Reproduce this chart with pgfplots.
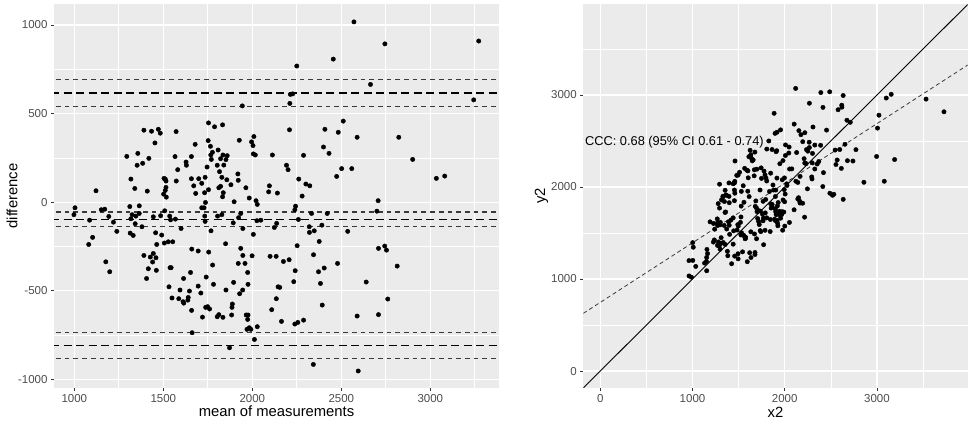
\documentclass[border=0pt]{standalone}
\usepackage{fontspec}
\setmainfont{Liberation Sans}
\usepackage{pgfplots}
\usepackage{pgfplotstable}
\pgfplotsset{compat=1.18}
\definecolor{panel}{HTML}{EBEBEB}
\definecolor{tickc}{HTML}{4D4D4D}
\definecolor{tickm}{HTML}{333333}
\definecolor{dashc}{HTML}{3A3A3A}

\pgfplotstableread{
m d
1391 406
1434 400
1472 411
1483 389
1572 398
1453 334
1679 326
1357 275
1295 258
1419 247
1566 257
1658 257
1353 208
1384 219
1628 226
1630 208
1581 183
1318 130
1504 134
1511 130
1515 119
1658 132
1699 132
1573 119
1340 77
1122 64
1410 62
1671 92
1716 106
1515 83
1511 66
1502 45
1517 28
1682 49
1004 -32
1152 -43
1171 -40
1312 -25
1365 -21
1716 -32
998 -71
1086 -102
1194 -81
1220 -113
1239 -165
1081 -239
1103 -199
1177 -337
1199 -393
1325 -71
1346 -79
1365 -64
1318 -94
1342 -122
1314 -175
1331 -188
1380 -139
1444 -83
1485 -77
1508 -49
1536 -79
1541 -100
1568 -96
1600 -149
1457 -173
1491 -186
1463 -239
1506 -231
1528 -224
1553 -224
1660 -265
1696 -276
1391 -301
1427 -310
1444 -290
1459 -314
1440 -338
1416 -376
1461 -385
1406 -431
1538 -370
1544 -370
1614 -431
1653 -397
1532 -478
1594 -496
1647 -502
1696 -474
1711 -513
1549 -541
1587 -545
1611 -562
1615 -570
1640 -538
1638 -553
1659 -611
1720 -649
1662 -737
2250 768
2214 608
2227 611
2211 557
1944 543
1754 447
1788 425
1833 436
2209 408
2408 411
2511 457
2483 394
1752 347
1927 349
2009 370
1996 340
2004 319
1765 315
1776 281
1808 294
1767 266
1835 266
1859 262
1822 245
1852 240
1770 241
2006 272
2017 266
2113 266
2288 264
2400 311
2431 275
1803 208
1840 209
1746 198
2192 208
2201 183
2502 189
2474 145
1816 172
1919 159
1735 140
1829 140
1857 126
1921 123
2261 130
1880 98
2301 102
2323 92
2096 92
1812 81
1822 89
1754 70
1964 81
1732 53
1837 53
2092 58
2141 51
2280 34
1833 30
1983 23
1898 2
2021 8
2028 -13
1737 -2
2243 -23
1729 -32
2239 -43
1733 -79
1735 -109
1805 -79
1829 -71
1935 -64
1923 -88
1893 -117
1947 -149
2026 -105
2048 -102
2137 -120
2124 -143
2259 -98
2333 -64
2421 -64
2320 -139
2321 -171
2348 -162
2391 -130
2536 -165
1768 -162
2006 -182
1850 -235
1935 -261
1755 -282
1947 -301
1999 -303
1921 -346
1959 -346
2100 -306
2134 -306
2175 -335
2207 -325
2252 -246
2376 -222
2344 -297
2479 -346
2404 -372
2372 -393
2383 -459
2241 -387
2233 -449
1777 -355
1741 -423
1782 -464
1852 -496
1895 -453
1974 -397
1976 -464
1946 -496
1929 -517
2145 -478
2154 -481
2135 -545
1738 -594
1749 -590
1760 -603
1888 -575
1886 -594
1803 -647
1812 -635
1835 -650
1884 -637
1966 -637
1976 -637
1974 -662
1970 -718
1983 -709
1992 -718
2028 -703
2012 -775
1872 -822
2109 -607
2164 -673
2239 -688
2256 -679
2288 -666
2393 -581
2664 664
3244 577
2589 366
2823 366
2901 241
2559 189
3034 134
3081 147
2707 8
2700 -51
2709 -261
2744 -248
2754 -271
2814 -361
2640 -451
2761 -547
2589 -643
2709 -635
2595 -953
2571 1017
2455 807
2745 893
3272 909
2343 -916
}\ba

\pgfplotsset{ggstyle/.style={
  scale only axis,
  axis background/.style={fill=panel},
  axis line style={draw=none},
  grid=both,
  major grid style={white, line width=1.2pt},
  minor grid style={white, line width=0.6pt},
  tick align=outside,
  tick pos=left,
  major tick length=3pt,
  minor tick length=0pt,
  major tick style={tickm, line width=0.8pt},
  minor tick style={draw=none},
  ticklabel style={font=\fontsize{11.5}{13}\selectfont, text=tickc},
  /pgf/number format/assume math mode=true,
  /pgf/number format/1000 sep={},
  label style={font=\fontsize{14.8}{16}\selectfont, text=black},
  clip=true,
},
shortdash/.style={dashc, line width=1.3pt, dash pattern=on 4.7pt off 4pt},
longdash/.style={black, line width=1.8pt, dash pattern=on 8pt off 4.5pt},
}

\begin{document}
\begin{tikzpicture}
\path[use as bounding box] (0,0) rectangle (972pt,421pt);

\begin{axis}[ggstyle, at={(54pt,33pt)}, anchor=south west,
  width=445pt, height=384pt,
  xmin=886, xmax=3386, ymin=-1049, ymax=1118,
  xtick={1000,1500,2000,2500,3000}, minor xtick={1250,1750,2250,2750,3250},
  ytick={-1000,-500,0,500,1000}, minor ytick={-750,-250,250,750},
  xlabel={mean of measurements}, ylabel={difference},
  x label style={at={(axis description cs:0.5,-0.0617)}, anchor=center},
  y label style={at={(axis description cs:-0.0944,0.5)}, anchor=center},
]
\addplot[shortdash] coordinates {(800,690) (3500,690)};
\addplot[longdash] coordinates {(800,615) (3500,615)};
\addplot[shortdash] coordinates {(800,539) (3500,539)};
\addplot[shortdash] coordinates {(800,-56) (3500,-56)};
\addplot[longdash] coordinates {(800,-98) (3500,-98)};
\addplot[shortdash] coordinates {(800,-139) (3500,-139)};
\addplot[shortdash] coordinates {(800,-734) (3500,-734)};
\addplot[longdash] coordinates {(800,-809) (3500,-809)};
\addplot[shortdash] coordinates {(800,-884) (3500,-884)};
\addplot[only marks, mark=*, mark size=2.2pt, black] table[x=m, y=d] {\ba};
\end{axis}

\begin{axis}[ggstyle, at={(583.3pt,33.3pt)}, anchor=south west,
  width=384.4pt, height=383.7pt,
  xmin=-184, xmax=3984, ymin=-181, ymax=3989,
  xtick={0,1000,2000,3000}, minor xtick={500,1500,2500,3500},
  ytick={0,1000,2000,3000}, minor ytick={500,1500,2500,3500},
  xlabel={x2}, ylabel={y2},
  x label style={at={(axis description cs:0.5,-0.0633)}, anchor=center},
  y label style={at={(axis description cs:-0.1087,0.5)}, anchor=center},
]
\addplot[black, line width=0.9pt] coordinates {(-400,-400) (4200,4200)};
\addplot[dashc, line width=0.8pt, dash pattern=on 4pt off 3pt] coordinates {(-184,627) (3984,3326)};
\addplot[only marks, mark=*, mark size=2.2pt, black]
  table[x expr=\thisrow{m}+0.5*\thisrow{d}, y expr=\thisrow{m}-0.5*\thisrow{d}] {\ba};
\node[anchor=west, inner sep=0pt, font=\fontsize{12.8}{14}\selectfont] at (axis cs:-166,2489) {CCC: 0.68 (95\% CI 0.61 - 0.74)};
\end{axis}
\end{tikzpicture}
\end{document}
